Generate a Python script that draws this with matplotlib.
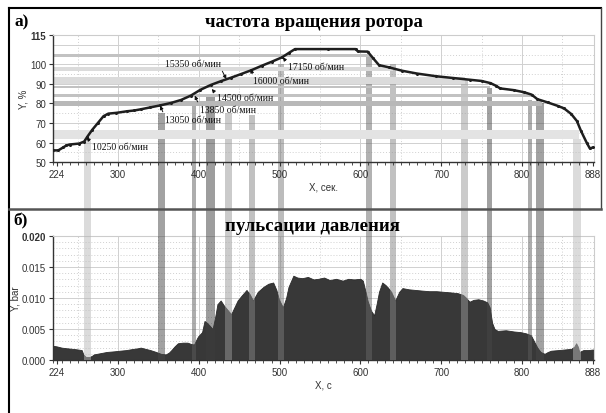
import matplotlib.pyplot as plt
import matplotlib.transforms as mtransforms
from matplotlib.patches import Rectangle
from matplotlib.lines import Line2D
from matplotlib.ticker import MultipleLocator

# rotor speed, % (panel a)
rpm_x = [219, 226, 232, 236, 240, 252, 258, 262, 268, 275, 282, 288, 298, 311, 320,
         328, 340, 352, 365, 378, 390, 402, 415, 428, 440, 452, 465, 478, 490, 503,
         512, 519, 560, 594, 597, 609, 616, 623, 635, 652, 670, 694, 715, 736, 750,
         761, 768, 773, 790, 803, 812, 819, 832, 844, 852, 861, 868, 873, 880, 884, 888]
rpm_y = [56, 56, 57.5, 58.5, 59, 59.5, 60.5, 63, 66.5, 70, 73.5, 74.8, 75.2, 76, 76.4,
         77, 78, 79, 80.2, 81.8, 84, 87, 89.5, 91.5, 93.2, 95, 97, 99.3, 101.3, 103.6,
         106, 107.8, 107.8, 107.8, 106.6, 106.5, 103, 99.6, 98.5, 96.7, 95.3, 93.9, 93, 92.1, 91.5,
         90.4, 89, 87.7, 86.8, 85.7, 84.5, 82.2, 80.5, 78.8, 77.5, 74.6, 71, 66, 60, 57, 57.5]

# pressure pulsation, bar (panel б)
press_x = [219, 224, 230, 236, 244, 250, 255, 257, 260, 265, 268, 270, 278, 286, 295,
           302, 310, 319, 325, 328, 334, 340, 347, 353, 359, 363, 366, 370, 374, 380,
           386, 390, 394, 397, 399, 404, 407, 410, 413, 417, 420, 423, 427, 431, 436,
           440, 444, 448, 453, 459, 463, 467, 473, 480, 486, 492, 496, 499, 504, 508,
           511, 517, 522, 528, 535, 542, 548, 555, 562, 570, 578, 585, 592, 600, 603,
           606, 609, 613, 617, 620, 623, 627, 631, 634, 638, 643, 648, 652, 660, 668,
           676, 685, 694, 703, 712, 720, 727, 731, 735, 740, 746, 752, 757, 760, 763,
           766, 770, 780, 790, 798, 805, 811, 815, 819, 823, 828, 832, 836, 845, 853,
           861, 865, 867, 869, 871, 876, 882, 888]
press_y = [0.0023, 0.0022, 0.0020, 0.0019, 0.0018, 0.0017, 0.0016, 0.0009, 0.0005, 0.0005,
           0.0007, 0.0009, 0.0011, 0.0013, 0.0014, 0.0015, 0.0016, 0.0018, 0.0019, 0.0020,
           0.0018, 0.0016, 0.0013, 0.0010, 0.0009, 0.0012, 0.0016, 0.0022, 0.0027, 0.0028,
           0.0028, 0.0026, 0.0025, 0.0033, 0.0038, 0.0045, 0.0063, 0.0060, 0.0056, 0.0050,
           0.0068, 0.0090, 0.0096, 0.0088, 0.0080, 0.0074, 0.0085, 0.0096, 0.0104, 0.0113,
           0.0106, 0.0096, 0.0110, 0.0118, 0.0123, 0.0125, 0.0113, 0.0098, 0.0085, 0.0100,
           0.0118, 0.0136, 0.0133, 0.0132, 0.0134, 0.0130, 0.0131, 0.0133, 0.0129, 0.0131,
           0.0128, 0.0131, 0.0130, 0.0131, 0.0128, 0.0112, 0.0095, 0.0080, 0.0072, 0.0090,
           0.0110, 0.0125, 0.0121, 0.0117, 0.0110, 0.0096, 0.0110, 0.0116, 0.0114, 0.0113,
           0.0112, 0.0111, 0.0111, 0.0110, 0.0109, 0.0108, 0.0105, 0.0100, 0.0094, 0.0097,
           0.0098, 0.0096, 0.0093, 0.0085, 0.0060, 0.0050, 0.0047, 0.0048, 0.0046, 0.0045,
           0.0043, 0.0040, 0.0030, 0.0020, 0.0013, 0.0010, 0.0013, 0.0015, 0.0016, 0.0017,
           0.0018, 0.0022, 0.0027, 0.0022, 0.0013, 0.0016, 0.0016, 0.0017]

# vertical marker bands: centre, width, top (% in panel a), shade over white
vband_x = [262, 354, 394, 414, 437, 466, 502, 611, 640, 729, 760, 810, 822, 868]
vband_w = [9, 9, 4, 11, 9, 7, 7, 7, 7, 9, 7, 4, 10, 9]
vband_top = [62, 75, 80, 85, 75, 74, 100, 105, 100, 92, 88, 82, 80, 62]
vband_shade = [0.86, 0.64, 0.68, 0.62, 0.80, 0.76, 0.74, 0.70, 0.76, 0.80, 0.64, 0.68, 0.64, 0.86]

# horizontal bands (speed levels) in panel a
hband_lo = [103.6, 96.7, 90.0, 87.7, 83.1, 78.8, 62.0]
hband_hi = [105.3, 98.5, 93.5, 89.0, 84.8, 81.4, 66.5]
hband_end = [611, 640, 729, 760, 811, 825, 871]
hband_shade = [0.76, 0.86, 0.86, 0.76, 0.76, 0.72, 0.89]

ann_labels = ['10250 об/мин', '13050 об/мин', '13850 об/мин', '14500 об/мин',
              '15350 об/мин', '16000 об/мин', '17150 об/мин']
ann_tip = [(261, 62.6), (352, 78.8), (395, 84), (416, 87.4), (434, 92.5), (465, 97.6), (504, 103.6)]
ann_text = [(268, 58.2), (358, 72), (401, 77.1), (422, 83.1), (358, 100.2), (467, 91.6), (510.5, 98.8)]

xticks = [224, 300, 400, 500, 600, 700, 800, 888]
XMIN, XMAX = 219.5, 889

fig = plt.figure(figsize=(6.06, 4.14), dpi=100)
fig.patch.set_facecolor('white')
ax1 = fig.add_axes([0.0875, 0.606, 0.8925, 0.307])
ax2 = fig.add_axes([0.0875, 0.128, 0.8925, 0.2995])

tick_font = dict(family='Liberation Sans', size=7, color='#333333')
serif = 'Liberation Serif'


def style_axes(ax):
    ax.set_xlim(XMIN, XMAX)
    ax.set_xticks(xticks)
    ax.xaxis.set_minor_locator(MultipleLocator(10))
    ax.tick_params(axis='both', which='major', length=3, width=0.8, color='#333333', pad=2)
    ax.tick_params(axis='x', which='minor', length=1.8, width=0.6, color='#333333')
    for lab in ax.get_xticklabels() + ax.get_yticklabels():
        lab.set_fontfamily(tick_font['family'])
        lab.set_fontsize(tick_font['size'])
        lab.set_color(tick_font['color'])
    for s in ['top', 'right']:
        ax.spines[s].set_color('#cccccc')
        ax.spines[s].set_linewidth(0.8)
    for s in ['left', 'bottom']:
        ax.spines[s].set_color('#333333')
        ax.spines[s].set_linewidth(1.0)
    # grid: solid at 100 s, dotted in between
    for gx in range(300, 900, 100):
        ax.axvline(gx, color='#d0d0d0', lw=0.7, zorder=0.2)
    for gx in range(250, 900, 100):
        ax.axvline(gx, color='#d0d0d0', lw=0.7, ls=(0, (1, 2)), zorder=0.2)


# ---- panel a ----
ax1.set_ylim(50, 115)
ax1.set_yticks([50, 60, 70, 80, 90, 100, 115])
style_axes(ax1)
for gy in range(60, 115, 10):
    ax1.axhline(gy, color='#d0d0d0', lw=0.7, zorder=0.2)
for gy in range(55, 115, 5):
    if gy % 10:
        ax1.axhline(gy, color='#d0d0d0', lw=0.7, ls=(0, (1, 2)), zorder=0.2)

for lo, hi, xe, sh in zip(hband_lo, hband_hi, hband_end, hband_shade):
    ax1.fill_between([XMIN, xe], lo, hi, color=str(sh), lw=0, zorder=1.5)

gap = mtransforms.blended_transform_factory(ax1.transData, fig.transFigure)
for xc, w, top, sh in zip(vband_x, vband_w, vband_top, vband_shade):
    c = str(max(0.0, 2 * sh - 1))
    ax1.fill_between([xc - w / 2, xc + w / 2], 50, top, color=c, alpha=0.5, lw=0, zorder=1)
    ax1.add_patch(Rectangle((xc - w / 2, 0.4275), w, 0.606 - 0.4275, transform=gap,
                            color=c, alpha=0.5, lw=0, clip_on=False, zorder=1))
    ax2.axvspan(xc - w / 2, xc + w / 2, color=c, alpha=0.5, lw=0, zorder=3)

ax1.plot(rpm_x, rpm_y, color='#1e1e1e', lw=1.8, marker='.', ms=2.4, zorder=4)

for lab, tip, pos in zip(ann_labels, ann_tip, ann_text):
    rel = (1, 0) if lab.startswith('15350') else (0, 0.8)
    ax1.annotate(lab, xy=tip, xytext=pos, ha='left', va='center', fontsize=7,
                 family=serif, color='#111111', zorder=5,
                 arrowprops=dict(arrowstyle='-|>', color='#111111', lw=0.7,
                                 mutation_scale=5, relpos=rel, shrinkA=0, shrinkB=0))

ax1.set_xlabel('X, сек.', fontsize=7, family='Liberation Sans', color='#333333', labelpad=2)
ax1.set_ylabel('Y, %', fontsize=7, family='Liberation Sans', color='#333333', labelpad=1)
ax1.get_yticklabels()[-1].set_fontweight('bold')

# ---- panel б ----
ax2.set_ylim(0, 0.020)
ax2.set_yticks([0.0, 0.005, 0.010, 0.015, 0.020])
ax2.set_yticklabels(['0.000', '0.005', '0.010', '0.015', '0.020'])
style_axes(ax2)
for k in range(1, 20):
    gy = k * 0.001
    ax2.axhline(gy, color='#d0d0d0', lw=0.7, ls='-' if k % 5 == 0 else (0, (1, 2)), zorder=0.2)
ax2.fill_between(press_x, 0, press_y, color='#383838', lw=0.6, edgecolor='#2a2a2a', zorder=2)
ax2.set_xlabel('X, с', fontsize=7, family='Liberation Sans', color='#333333', labelpad=2)
ax2.set_ylabel('Y, bar', fontsize=7, family='Liberation Sans', color='#333333', labelpad=1)
ax2.get_yticklabels()[-1].set_fontweight('bold')

# titles and panel letters
fig.text(0.518, 0.945, 'частота вращения ротора', ha='center', va='center',
         fontsize=13.5, fontweight='bold', family=serif)
fig.text(0.024, 0.945, 'а)', ha='left', va='center', fontsize=12.5, fontweight='bold', family=serif)
fig.text(0.515, 0.452, 'пульсации давления', ha='center', va='center',
         fontsize=13.5, fontweight='bold', family=serif)
fig.text(0.022, 0.466, 'б)', ha='left', va='center', fontsize=12.5, fontweight='bold', family=serif)

# frame and separator
fig.add_artist(Line2D([0.015, 0.015], [0, 0.978], color='black', lw=1.5, transform=fig.transFigure))
fig.add_artist(Line2D([0.015, 0.992], [0.978, 0.978], color='black', lw=1.5, transform=fig.transFigure))
fig.add_artist(Line2D([0.992, 0.992], [0.493, 0.978], color='#444444', lw=1.0, transform=fig.transFigure))
fig.add_artist(Line2D([0.015, 0.992], [0.493, 0.493], color='#555555', lw=1.8, transform=fig.transFigure))

fig.savefig('out.png', dpi=100)
